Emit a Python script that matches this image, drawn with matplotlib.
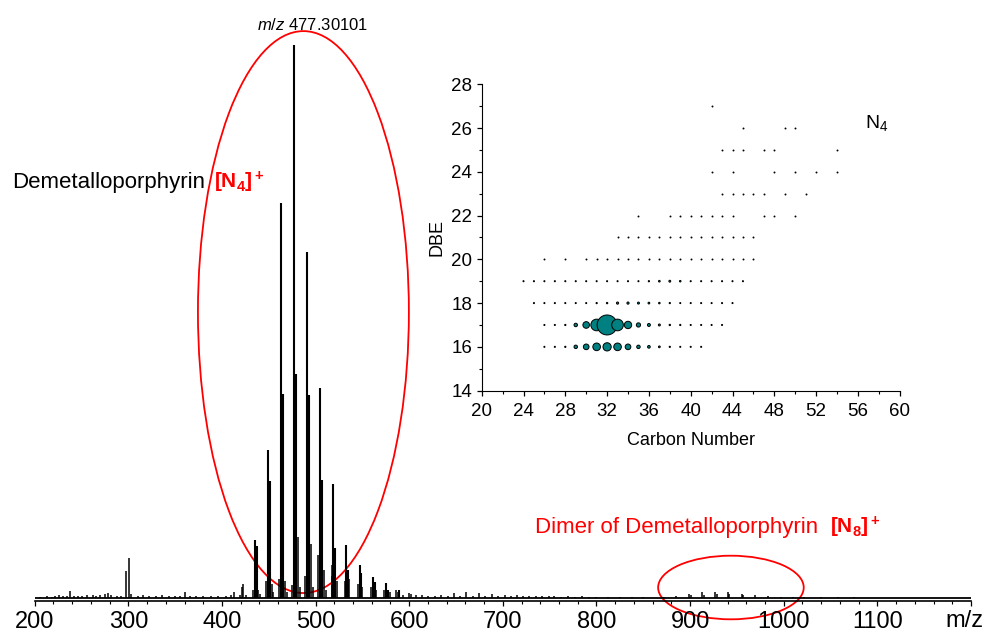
import matplotlib
matplotlib.use("Agg")
import matplotlib.pyplot as plt
from matplotlib.patches import Ellipse
from matplotlib.ticker import MultipleLocator

plt.rcParams["font.family"] = ["Liberation Sans", "DejaVu Sans"]
plt.rcParams["mathtext.fontset"] = "custom"
plt.rcParams["mathtext.rm"] = "Liberation Sans"
plt.rcParams["mathtext.it"] = "Liberation Sans:italic"
plt.rcParams["mathtext.bf"] = "Liberation Sans:bold"

# ---------------------------------------------------------------- data
# main N4 cluster (m/z, relative intensity %)
PEAK_MZ = [435, 437, 449, 451, 463, 465, 477, 479, 491, 493, 505, 507,
           519, 521, 533, 535, 547, 549, 561, 563, 575, 577, 589]
PEAK_INT = [10.4, 9.4, 26.8, 21.2, 71.5, 36.8, 100.0, 40.5, 62.5, 36.7,
            38.0, 21.4, 20.7, 9.0, 9.6, 5.0, 6.0, 4.5, 3.8, 2.9, 2.7, 1.5, 1.5]

# smaller peaks and baseline noise
MINOR_MZ = [206, 213, 218, 222, 226, 230, 234, 238, 242, 246, 250, 256, 262,
            266, 270, 275, 278, 282, 288, 292, 298, 301, 303, 310, 316, 322,
            330, 336, 343, 350, 355, 360, 366, 372, 380, 388, 396, 404, 410,
            413, 419, 421, 423, 426, 433, 439, 441, 447, 453, 455, 461, 467,
            469, 475, 481, 483, 489, 495, 497, 503, 509, 511, 517, 518, 523,
            531, 536, 545, 550, 559, 565, 573, 579, 586, 588, 593, 600, 602,
            607, 614, 620, 627, 634, 641, 648, 654, 661, 668, 675, 681, 688,
            695, 702, 709, 715, 722, 728, 735, 742, 749, 755, 762, 770, 777,
            785, 792, 800, 812, 825, 838, 850]
MINOR_INT = [0.2, 0.3, 0.2, 0.4, 0.5, 0.3, 0.3, 1.3, 0.4, 0.3, 0.4, 0.5,
             0.5, 0.4, 0.6, 0.8, 0.9, 0.6, 0.4, 0.3, 4.9, 7.2, 0.8, 0.4,
             0.5, 0.3, 0.4, 0.5, 0.4, 0.3, 0.3, 1.1, 0.4, 0.3, 0.4, 0.3,
             0.3, 0.4, 0.5, 1.0, 0.6, 2.0, 2.6, 0.5, 1.5, 1.5, 0.8, 3.0,
             2.5, 1.0, 3.5, 3.0, 1.0, 2.3, 11.0, 2.0, 4.0, 9.7, 2.0, 7.7,
             5.0, 1.5, 4.0, 6.0, 3.0, 3.0, 3.5, 2.5, 2.0, 2.0, 1.5, 1.5,
             1.0, 1.5, 1.0, 0.6, 0.9, 0.7, 0.5, 0.5, 0.4, 0.4, 0.6, 0.4,
             0.9, 0.4, 1.1, 0.4, 0.9, 0.4, 0.8, 0.3, 0.6, 0.3, 0.5, 0.3,
             0.4, 0.3, 0.4, 0.3, 0.3, 0.2, 0.3, 0.2, 0.3, 0.2, 0.2, 0.2,
             0.2, 0.15, 0.15]

# dimer N8 region
DIMER_MZ = [872, 885, 899, 901, 913, 915, 927, 929, 940, 942, 955, 957,
            969, 983, 997, 1010, 1022, 1040, 1058, 1075]
DIMER_INT = [0.2, 0.3, 0.7, 0.5, 1.0, 0.6, 1.1, 0.7, 1.1, 0.7, 0.8, 0.5,
             0.6, 0.4, 0.25, 0.2, 0.15, 0.15, 0.1, 0.1]

XTICKS = [200, 300, 400, 500, 600, 700, 800, 900, 1000, 1100, 1200]
XTICK_LABELS = ["200", "300", "400", "500", "600", "700", "800", "900",
                "1000", "1100", ""]

# inset: DBE vs carbon number, relative abundance %
DBE16_C = [26, 27, 28, 29, 30, 31, 32, 33, 34, 35, 36, 37, 38, 39, 40, 41]
DBE16_A = [0.3, 0.3, 0.4, 3.0, 8.0, 14.5, 17.0, 14.5, 8.0, 3.0, 1.8, 0.8,
           0.4, 0.3, 0.3, 0.3]
DBE17_C = [26, 27, 28, 29, 30, 31, 32, 33, 34, 35, 36, 37, 38, 39, 40, 41,
           42, 43]
DBE17_A = [0.3, 0.3, 0.4, 3.0, 11.0, 34.0, 100.0, 34.0, 13.5, 4.5, 2.2, 1.0,
           0.5, 0.4, 0.3, 0.3, 0.3, 0.3]
DBE18_C = [25, 26, 27, 28, 29, 30, 31, 32, 33, 34, 35, 36, 37, 38, 39, 40,
           41, 42, 43, 44]
DBE18_A = [0.3, 0.3, 0.3, 0.3, 0.3, 0.3, 0.4, 0.5, 1.2, 1.2, 1.0, 0.8, 0.6,
           0.4, 0.3, 0.3, 0.3, 0.3, 0.3, 0.3]
DBE19_C = [24, 25, 26, 27, 28, 29, 30, 31, 32, 33, 34, 35, 36, 37, 38, 39,
           40, 41, 42, 43, 44, 45]
DBE19_A = [0.3, 0.3, 0.3, 0.3, 0.3, 0.3, 0.3, 0.3, 0.3, 0.3, 0.3, 0.3, 0.4,
           0.7, 0.9, 0.6, 0.3, 0.3, 0.3, 0.3, 0.3, 0.3]
DBE20_C = [26, 28, 30, 31, 32, 33, 34, 35, 36, 37, 38, 39, 40, 41, 42, 43,
           44, 45, 46]
DBE21_C = [33, 34, 35, 36, 37, 38, 39, 40, 41, 42, 43, 44, 45, 46]
DBE22_C = [35, 38, 39, 40, 41, 42, 43, 44, 47, 48, 50]
DBE23_C = [43, 44, 45, 46, 47, 49, 51]
DBE24_C = [42, 44, 48, 50, 52, 54]
DBE25_C = [43, 44, 45, 47, 48, 54]
DBE26_C = [45, 49, 50]
DBE27_C = [42]
TRACE_A = 0.3   # all dots above DBE 19 are at trace level

RED = "#ff0000"
TEAL = "#008080"
W, H = 986, 639


def fx(px):
    return px / W


def fy(py):
    return 1 - py / H


fig = plt.figure(figsize=(9.86, 6.39), dpi=100)

# ------------------------------------------------------------ spectrum
ax = fig.add_axes([fx(34.7), fy(601), fx(971) - fx(34.7), fy(30) - fy(601)])
ax.vlines(MINOR_MZ, 0, MINOR_INT, color="black", lw=1.1)
ax.vlines(DIMER_MZ, 0, DIMER_INT, color="black", lw=1.1)
ax.vlines(PEAK_MZ, 0, PEAK_INT, color="black", lw=1.5)
ax.axhline(0, color="black", lw=1.3)

ax.set_xlim(200, 1200)
ax.set_ylim(-0.54, 102.7)
ax.set_xticks(XTICKS)
ax.set_xticklabels(XTICK_LABELS)
ax.xaxis.set_minor_locator(MultipleLocator(20))
ax.tick_params(axis="x", which="major", direction="out", length=3.5,
               width=0.9, labelsize=17, pad=4)
ax.tick_params(axis="x", which="minor", direction="out", length=2.2,
               width=0.8)
ax.set_yticks([])
for side in ["left", "right", "top"]:
    ax.spines[side].set_visible(False)
ax.spines["bottom"].set_linewidth(1.2)

ax.add_patch(Ellipse((487, 51.7), 225.3, 101.6, fill=False, edgecolor=RED,
                     lw=1.3, clip_on=False))
ax.add_patch(Ellipse((943.6, 1.9), 155.5, 11.5, fill=False, edgecolor=RED,
                     lw=1.3, clip_on=False))

fig.text(fx(313), fy(25), r"$m/z$ 477.30101", fontsize=12,
         ha="center", va="center")
fig.text(fx(12), fy(188), "Demetalloporphyrin", fontsize=16,
         ha="left", va="baseline")
fig.text(fx(214), fy(188), r"$\mathbf{[N_4]^+}$", fontsize=15, color=RED,
         ha="left", va="baseline")
fig.text(fx(535), fy(533), "Dimer of Demetalloporphyrin", fontsize=16,
         color=RED, ha="left", va="baseline")
fig.text(fx(830), fy(533), r"$\mathbf{[N_8]^+}$", fontsize=15, color=RED,
         ha="left", va="baseline")
fig.text(fx(983), fy(621), "m/z", fontsize=17, ha="right", va="center")

# ------------------------------------------------------------ inset
ins = fig.add_axes([fx(481.7), fy(390.6), fx(899.7) - fx(481.7),
                    fy(84.3) - fy(390.6)])
SCALE = 2.07
rows = [(16, DBE16_C, DBE16_A), (17, DBE17_C, DBE17_A),
        (18, DBE18_C, DBE18_A), (19, DBE19_C, DBE19_A)]
for dbe, cs, ab in rows:
    ins.scatter(cs, [dbe] * len(cs), s=[a * SCALE for a in ab],
                facecolor=TEAL, edgecolor="black", lw=0.7, zorder=3)
trace_rows = [(20, DBE20_C), (21, DBE21_C), (22, DBE22_C), (23, DBE23_C),
              (24, DBE24_C), (25, DBE25_C), (26, DBE26_C), (27, DBE27_C)]
for dbe, cs in trace_rows:
    ins.scatter(cs, [dbe] * len(cs), s=TRACE_A * SCALE, facecolor=TEAL,
                edgecolor="black", lw=0.6, zorder=3)

ins.set_xlim(20, 60)
ins.set_ylim(14, 28)
ins.xaxis.set_major_locator(MultipleLocator(4))
ins.xaxis.set_minor_locator(MultipleLocator(2))
ins.yaxis.set_major_locator(MultipleLocator(2))
ins.yaxis.set_minor_locator(MultipleLocator(1))
ins.tick_params(which="major", direction="out", length=3.8, width=0.9,
                labelsize=13.5, pad=3)
ins.tick_params(axis="x", which="major", pad=5)
ins.tick_params(which="minor", direction="out", length=2.0, width=0.8)
ins.spines["right"].set_visible(False)
ins.spines["top"].set_visible(False)
ins.set_xlabel("Carbon Number", fontsize=13, labelpad=9)
ins.set_ylabel("DBE", fontsize=13, labelpad=4)
ins.patch.set_alpha(0)

fig.text(fx(865), fy(128), r"N$_4$", fontsize=14, ha="left", va="baseline")

fig.savefig("out.png", dpi=100)
